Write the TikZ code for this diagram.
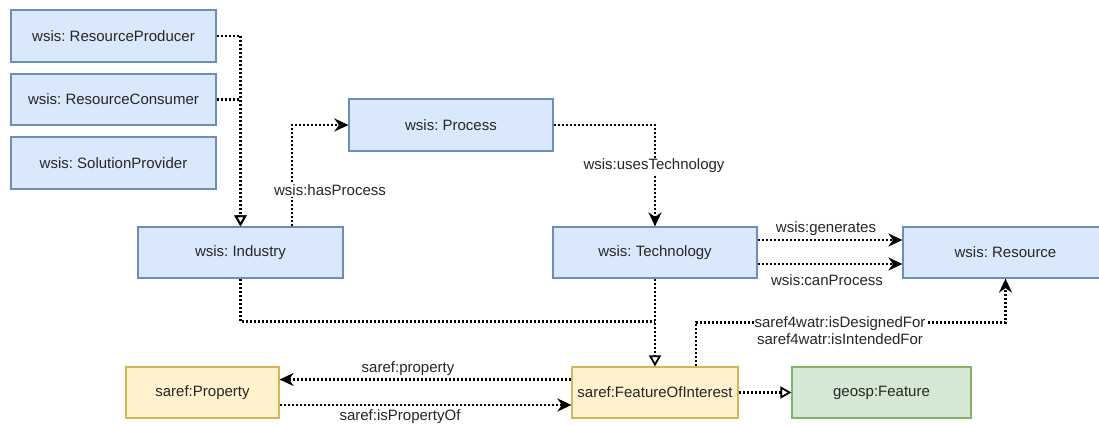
\documentclass[tikz,border=0pt]{standalone}
\usepackage{fontspec}
\setmainfont{Liberation Sans}
\usetikzlibrary{arrows.meta,calc}
\frenchspacing

\definecolor{bluefill}{HTML}{DAE8FC}
\definecolor{bluedraw}{HTML}{6C8EBF}
\definecolor{yellowfill}{HTML}{FFF2CC}
\definecolor{yellowdraw}{HTML}{D6B656}
\definecolor{greenfill}{HTML}{D5E8D4}
\definecolor{greendraw}{HTML}{82B366}

\tikzset{
  box/.style={rectangle, line width=1.2pt, inner sep=0pt,
    font=\fontsize{15}{18}\selectfont\frenchspacing, text=black!85},
  bluebox/.style={box, fill=bluefill, draw=bluedraw},
  yellowbox/.style={box, fill=yellowfill, draw=yellowdraw},
  greenbox/.style={box, fill=greenfill, draw=greendraw},
  link/.style={line width=2.2pt, dash pattern=on 2.2pt off 1.8pt, black},
  filled/.style={link, -{Stealth[length=14pt,width=13pt,inset=4.5pt]}},
  inherit/.style={link, -{Triangle[open,length=11pt,width=12pt,line width=1.8pt]}},
  lbl/.style={font=\fontsize{15}{17}\selectfont\frenchspacing, text=black!85, fill=white,
    inner sep=1pt, align=center},
}

\begin{document}
\begin{tikzpicture}[x=1pt,y=-1pt]
  \useasboundingbox[fill=white] (0,0) rectangle (1099,425);

  % classes
  \node[bluebox, minimum width=205pt, minimum height=52pt] (prod) at (113.5,36) {wsis: ResourceProducer};
  \node[bluebox, minimum width=205pt, minimum height=51pt] (cons) at (113.5,99.5) {wsis: ResourceConsumer};
  \node[bluebox, minimum width=205pt, minimum height=52pt] (sol) at (113.5,163) {wsis: SolutionProvider};
  \node[bluebox, minimum width=205pt, minimum height=51pt] (ind) at (240.5,252.5) {wsis: Industry};
  \node[bluebox, minimum width=204pt, minimum height=52pt] (proc) at (451,125) {wsis: Process};
  \node[bluebox, minimum width=204pt, minimum height=51pt] (tech) at (655,252.5) {wsis: Technology};
  \node[bluebox, minimum width=205pt, minimum height=51pt] (res) at (1005.5,252.5) {wsis: Resource};
  \node[yellowbox, minimum width=153pt, minimum height=51pt] (prop) at (202.5,392.5) {saref:Property};
  \node[yellowbox, minimum width=166pt, minimum height=51pt] (foi) at (655,392.5) {saref:FeatureOfInterest};
  \node[greenbox, minimum width=179pt, minimum height=51pt] (geo) at (881.5,392.5) {geosp:Feature};

  % subclass links
  \draw[inherit] (prod.east) -| (ind.north);
  \draw[inherit] (cons.east) -| (ind.north);
  \draw[inherit] (tech.south) -- (foi.north);
  \draw[link] (ind.south) |- ([yshift=45pt]foi.north);
  \draw[inherit] (foi.east) -- (geo.west);

  % object properties
  \draw[filled] ([xshift=51.5pt]ind.north) |- (proc.west);
  \node[lbl] (hasproc) at (330,190) {wsis:hasProcess};

  \draw[filled] (proc.east) -| (tech.north);
  \node[lbl] (usestech) at (654,166) {wsis:usesTechnology};

  \draw[filled] ([yshift=12.5pt]tech.east) -- ([yshift=12.5pt]res.west);
  \node[lbl] (gen) at (826,229) {wsis:generates};
  \draw[filled] ([yshift=-11.5pt]tech.east) -- ([yshift=-11.5pt]res.west);
  \node[lbl] (canproc) at (827,280) {wsis:canProcess};

  \draw[filled] ([xshift=41pt]foi.north) -- ++(0,-44) -| (res.south);
  \node[lbl] (designed) at (840,330.5) {saref4watr:isDesignedFor\\saref4watr:isIntendedFor};

  \draw[filled] ([yshift=13pt]foi.west) -- ([yshift=13pt]prop.east);
  \node[lbl] (property) at (408,369) {saref:property};
  \draw[filled] ([yshift=-12.5pt]prop.east) -- ([yshift=-12.5pt]foi.west);
  \node[lbl, fill=none, inner sep=0pt] (propof) at (400,417) {saref:isPropertyOf};
\end{tikzpicture}
\end{document}
